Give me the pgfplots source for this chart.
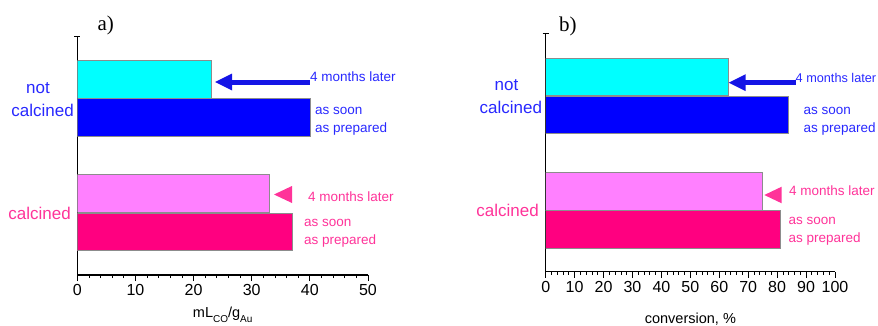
\documentclass[border=0pt]{standalone}
\usepackage{fontspec}
\setmainfont{Liberation Sans}
\newfontfamily\serifpanel{Liberation Serif}
\usepackage{pgfplots}
\pgfplotsset{compat=1.18}
\definecolor{barcyan}{RGB}{0,255,255}
\definecolor{barblue}{RGB}{0,0,255}
\definecolor{barpink}{RGB}{255,128,255}
\definecolor{barmag}{RGB}{255,0,128}
\definecolor{txtblue}{RGB}{40,40,255}
\definecolor{txtpink}{RGB}{255,51,153}
\definecolor{arrblue}{RGB}{20,20,230}
\definecolor{edgegray}{RGB}{140,140,140}
\pgfplotsset{
  panel/.style={
    scale only axis,
    anchor=south west,
    axis x line=bottom,
    axis y line=left,
    axis line style={-, line width=1.2pt},
    xmin=0,
    ymin=0,
    minor x tick num=4,
    xtick align=outside,
    ytick align=center,
    major tick length=6pt,
    minor tick length=3pt,
    every tick/.style={black, line width=0.8pt},
    yticklabels={},
    /pgf/number format/assume math mode=true,
    tick label style={font=\fontsize{16}{16}\selectfont},
  },
  bars/.style={xbar, bar shift=0pt, bar width=37.7, draw=edgegray, line width=0.6pt},
}
\begin{document}
\begin{tikzpicture}[x=1pt,y=1pt]
% ---------- panel a ----------
\begin{axis}[panel, at={(77.3pt,50pt)}, width=290.7pt, height=238.3pt,
  xmax=50, xtick={0,10,...,50}, ymax=238.3, ytick={238.3}]
\addplot[bars, fill=barcyan] coordinates {(23,195.5)};
\addplot[bars, fill=barblue] coordinates {(40,157.9)};
\addplot[bars, fill=barpink] coordinates {(33,81.5)};
\addplot[bars, fill=barmag] coordinates {(37,43.3)};
\end{axis}
% ---------- panel b ----------
\begin{axis}[panel, at={(545.7pt,53.3pt)}, width=289.3pt, height=238.4pt,
  xmax=100, xtick={0,10,...,100}, ymax=238.4, ytick={238.4}]
\addplot[bars, fill=barcyan] coordinates {(63,194.9)};
\addplot[bars, fill=barblue] coordinates {(84,156.9)};
\addplot[bars, fill=barpink] coordinates {(75,80.6)};
\addplot[bars, fill=barmag] coordinates {(81,42.6)};
\end{axis}
% ---------- annotations panel a ----------
\begin{scope}[every node/.style={inner sep=0pt}]
\node[anchor=base west, font=\serifpanel\fontsize{21}{21}\selectfont] at (97.3,295) {a)};
\node[anchor=base, text=txtblue, font=\fontsize{17}{17}\selectfont] at (38,232) {not};
\node[anchor=base east, text=txtblue, font=\fontsize{17}{17}\selectfont] at (74,209) {calcined};
\node[anchor=base east, text=txtpink, font=\fontsize{17}{17}\selectfont] at (71,106) {calcined};
\fill[arrblue] (215,243) -- (232,251.5) -- (232,234.5) -- cycle;
\fill[arrblue] (231,240.5) rectangle (310,245.5);
\node[anchor=base west, text=txtblue, font=\fontsize{13.5}{13.5}\selectfont] at (310,244) {4 months later};
\node[anchor=base west, text=txtblue, font=\fontsize{13.5}{13.5}\selectfont] at (315,210.5) {as soon};
\node[anchor=base west, text=txtblue, font=\fontsize{13.5}{13.5}\selectfont] at (315,192.7) {as prepared};
\fill[txtpink] (274,130.5) -- (292,139) -- (292,122) -- cycle;
\node[anchor=base west, text=txtpink, font=\fontsize{13.5}{13.5}\selectfont] at (308,123.3) {4 months later};
\node[anchor=base west, text=txtpink, font=\fontsize{13.5}{13.5}\selectfont] at (304,99) {as soon};
\node[anchor=base west, text=txtpink, font=\fontsize{13.5}{13.5}\selectfont] at (304,81) {as prepared};
\node[anchor=base, font=\fontsize{14.5}{14.5}\selectfont] at (222.7,7.3)
  {mL\raisebox{-5pt}{\fontsize{10}{10}\selectfont CO}/g\raisebox{-5pt}{\fontsize{10}{10}\selectfont Au}};
% ---------- annotations panel b ----------
\node[anchor=base west, font=\serifpanel\fontsize{21}{21}\selectfont] at (559,293.3) {b)};
\node[anchor=base, text=txtblue, font=\fontsize{17}{17}\selectfont] at (506.5,234.3) {not};
\node[anchor=base east, text=txtblue, font=\fontsize{17}{17}\selectfont] at (542.3,211.7) {calcined};
\node[anchor=base east, text=txtpink, font=\fontsize{17}{17}\selectfont] at (539,108.3) {calcined};
\fill[arrblue] (728.7,242.3) -- (745.7,250.8) -- (745.7,233.8) -- cycle;
\fill[arrblue] (744.7,239.8) rectangle (795.5,244.8);
\node[anchor=base west, text=txtblue, font=\fontsize{12.7}{12.7}\selectfont] at (795.5,243) {4 months later};
\node[anchor=base west, text=txtblue, font=\fontsize{13.5}{13.5}\selectfont] at (803.3,210.7) {as soon};
\node[anchor=base west, text=txtblue, font=\fontsize{13.5}{13.5}\selectfont] at (803.3,192.7) {as prepared};
\fill[txtpink] (764.3,130) -- (781.7,138.3) -- (781.7,121.7) -- cycle;
\node[anchor=base west, text=txtpink, font=\fontsize{13.5}{13.5}\selectfont] at (789,130) {4 months later};
\node[anchor=base west, text=txtpink, font=\fontsize{13.5}{13.5}\selectfont] at (788.3,100.7) {as soon};
\node[anchor=base west, text=txtpink, font=\fontsize{13.5}{13.5}\selectfont] at (788.3,82.7) {as prepared};
\node[anchor=base, font=\fontsize{14.5}{14.5}\selectfont] at (690.4,1.5) {conversion, \%};
\end{scope}
\pgfresetboundingbox
\useasboundingbox (0,0) rectangle (878,325);
\end{tikzpicture}
\end{document}
